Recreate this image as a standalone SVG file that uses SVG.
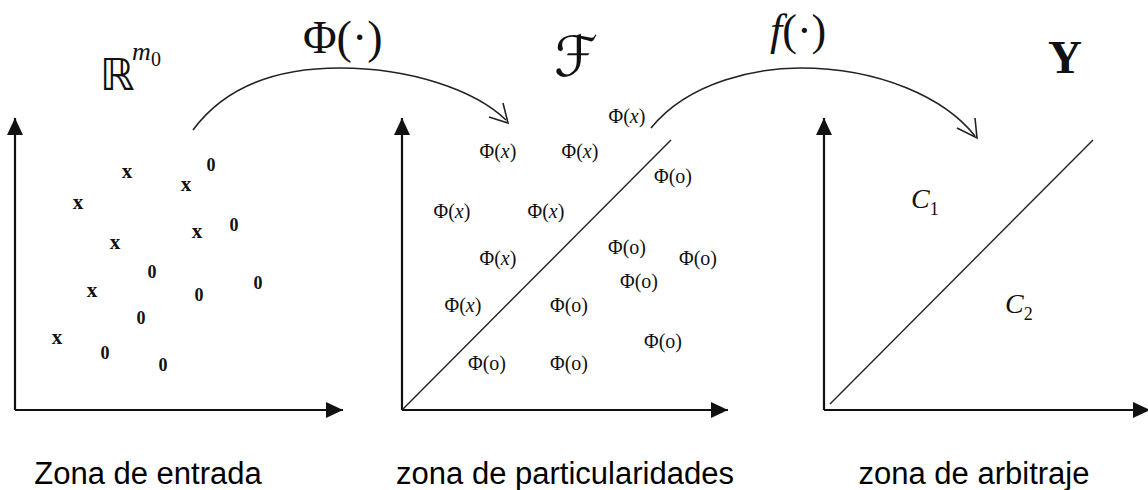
<svg xmlns="http://www.w3.org/2000/svg" width="1148" height="490" viewBox="0 0 1148 490">
<style>
.axis{stroke:#111;stroke-width:2.2;fill:none}
.diag{stroke:#222;stroke-width:1.4;fill:none}
.curve{stroke:#222;stroke-width:1.6;fill:none}
.pt{font-family:"Liberation Serif",serif;fill:#111;text-anchor:middle;font-weight:bold}
.px{font-size:21px}
.po{font-size:18px}
.phi{font-family:"Liberation Serif",serif;font-size:20px;fill:#111;text-anchor:middle}
.cap{font-family:"Liberation Sans",Arial,sans-serif;font-size:31px;fill:#000;text-anchor:middle}
.math{font-family:"Liberation Serif",serif;fill:#111}
</style>
<defs>
<marker id="ah" markerUnits="userSpaceOnUse" markerWidth="18" markerHeight="18" refX="17" refY="8" orient="auto">
<path d="M0,0 L17,8 L0,16 Z" fill="#111"/>
</marker>
</defs>
<rect width="1148" height="490" fill="#fff"/>

<g id="connectors">
<path class="curve" d="M193,130 C230,80 290,68 340,68 C410,68 475,90 506,120"/>
<path class="curve" d="M489,117 L508,123 L503,103"/>
<path class="curve" d="M651,128 C690,80 760,68 800,68 C880,68 945,98 975,136"/>
<path class="curve" d="M957,128 L977,138 L975,118"/>
</g>

<g id="panel-entrada">
<line class="axis" x1="15" y1="410" x2="15" y2="118" marker-end="url(#ah)"/>
<line class="axis" x1="15" y1="410" x2="343" y2="410" marker-end="url(#ah)"/>
<text class="math" x="100" y="90" font-size="44" style="font-family:'DejaVu Sans',sans-serif">ℝ</text>
<text class="math" x="132" y="60" font-size="26" font-style="italic">m</text>
<text class="math" x="151" y="66" font-size="20">0</text>
<g class="pt px">
<text x="127" y="178">x</text>
<text x="186" y="191">x</text>
<text x="78" y="209">x</text>
<text x="197" y="238">x</text>
<text x="115" y="249">x</text>
<text x="92" y="297">x</text>
<text x="57" y="344">x</text>
</g>
<g class="pt po">
<text x="211" y="171">0</text>
<text x="234" y="231">0</text>
<text x="152" y="278">0</text>
<text x="199" y="301">0</text>
<text x="258" y="289">0</text>
<text x="141" y="324">0</text>
<text x="105" y="359">0</text>
<text x="163" y="371">0</text>
</g>
<text class="cap" x="148" y="484">Zona de entrada</text>
</g>

<g id="label-phi">
<text class="math" x="303" y="53" font-size="46">Φ(·)</text>
</g>

<g id="panel-particularidades">
<line class="axis" x1="402" y1="410" x2="402" y2="118" marker-end="url(#ah)"/>
<line class="axis" x1="402" y1="410" x2="728" y2="410" marker-end="url(#ah)"/>
<line class="diag" x1="403" y1="409" x2="671" y2="140"/>
<text class="math" x="554" y="76" font-size="56" style="font-family:'DejaVu Serif','DejaVu Sans',serif">ℱ</text>
<g class="phi">
<text x="627" y="123">Φ(<tspan font-style="italic">x</tspan>)</text>
<text x="498" y="158">Φ(<tspan font-style="italic">x</tspan>)</text>
<text x="580" y="158">Φ(<tspan font-style="italic">x</tspan>)</text>
<text x="452" y="218">Φ(<tspan font-style="italic">x</tspan>)</text>
<text x="546" y="218">Φ(<tspan font-style="italic">x</tspan>)</text>
<text x="498" y="265">Φ(<tspan font-style="italic">x</tspan>)</text>
<text x="463" y="312">Φ(<tspan font-style="italic">x</tspan>)</text>
<text x="673" y="183">Φ(o)</text>
<text x="627" y="254">Φ(o)</text>
<text x="698" y="265">Φ(o)</text>
<text x="639" y="288">Φ(o)</text>
<text x="569" y="312">Φ(o)</text>
<text x="663" y="348">Φ(o)</text>
<text x="487" y="370">Φ(o)</text>
<text x="569" y="370">Φ(o)</text>
</g>
<text class="cap" x="565" y="484">zona de particularidades</text>
</g>

<g id="label-f">
<text class="math" x="770" y="45" font-size="44"><tspan font-style="italic">f</tspan>(·)</text>
</g>

<g id="panel-arbitraje">
<line class="axis" x1="824" y1="410" x2="824" y2="118" marker-end="url(#ah)"/>
<line class="axis" x1="824" y1="410" x2="1150" y2="410" marker-end="url(#ah)"/>
<line class="diag" x1="830" y1="404" x2="1093" y2="140"/>
<text class="math" x="1048" y="73" font-size="47" font-weight="bold">Y</text>
<text class="math" x="911" y="208" font-size="28" font-style="italic">C<tspan font-size="18" font-style="normal" dy="7">1</tspan></text>
<text class="math" x="1005" y="313" font-size="28" font-style="italic">C<tspan font-size="18" font-style="normal" dy="7">2</tspan></text>
<text class="cap" x="974" y="484">zona de arbitraje</text>
</g>
</svg>
